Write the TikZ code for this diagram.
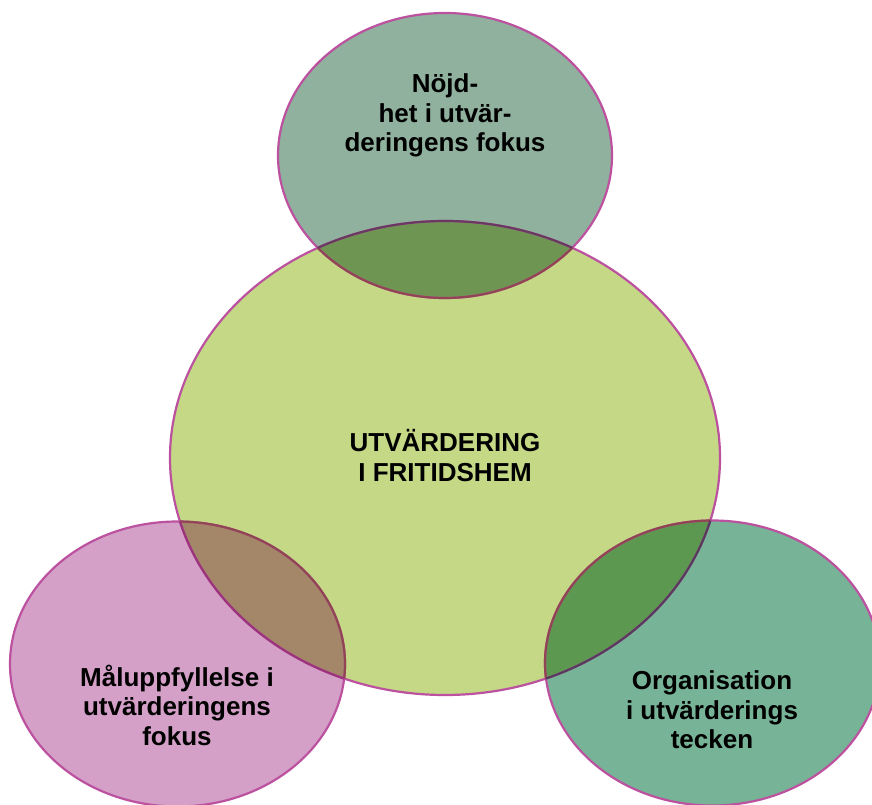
\documentclass[tikz,border=0pt]{standalone}
\usepackage{fontspec}
\setmainfont{Liberation Sans}
\definecolor{topfill}{HTML}{8FB19D}
\definecolor{midfill}{HTML}{C5D886}
\definecolor{leftfill}{HTML}{D4A0C8}
\definecolor{rightfill}{HTML}{77B497}
\definecolor{topmid}{HTML}{6E9652}
\definecolor{leftmid}{HTML}{A48769}
\definecolor{rightmid}{HTML}{5C984F}
\definecolor{rim}{HTML}{BC529F}
\definecolor{rimonmid}{HTML}{914554}
\definecolor{rimontop}{HTML}{693962}
\definecolor{rimonleft}{HTML}{9C337D}
\definecolor{rimonright}{HTML}{583A5E}
\tikzset{
  blob/.style={line width=2.2pt},
  eMid/.style={insert path={(445,458) ellipse [x radius=275, y radius=237]}},
  eTop/.style={insert path={(445,155.5) ellipse [x radius=167, y radius=142.5]}},
  eLeft/.style={insert path={(177.5,664) ellipse [x radius=167.5, y radius=142.5]}},
  eRight/.style={insert path={(712.5,663) ellipse [x radius=167.5, y radius=142.5]}},
  lbl/.style={align=center, font=\fontsize{26}{29.5}\selectfont\bfseries, text=black, inner sep=0pt}
}
\begin{document}
\begin{tikzpicture}[x=1pt,y=-1pt]
\useasboundingbox (0,0) rectangle (872,805);
% fills
\fill[midfill, eMid];
\fill[topfill, eTop];
\fill[leftfill, eLeft];
\fill[rightfill, eRight];
% overlaps
\begin{scope}\clip[eMid]; \fill[topmid, eTop]; \fill[leftmid, eLeft]; \fill[rightmid, eRight]; \end{scope}
% outlines
\draw[blob, rim, eMid];
\draw[blob, rim, eTop];
\draw[blob, rim, eLeft];
\draw[blob, rim, eRight];
% outlines seen through the other fill
\begin{scope}\clip[eMid]; \draw[blob, rimonmid, eTop]; \draw[blob, rimonmid, eLeft]; \draw[blob, rimonmid, eRight]; \end{scope}
\begin{scope}\clip[eTop]; \draw[blob, rimontop, eMid]; \end{scope}
\begin{scope}\clip[eLeft]; \draw[blob, rimonleft, eMid]; \end{scope}
\begin{scope}\clip[eRight]; \draw[blob, rimonright, eMid]; \end{scope}
% labels
\node[lbl] (top) at (445,115.5) {Nöjd-\\het i utvär-\\deringens fokus};
\node[lbl] (mid) at (445,455.5) {UTVÄRDERING\\I FRITIDSHEM};
\node[lbl] (left) at (177,705) {Måluppfyllelse i\\utvärderingens\\fokus};
\node[lbl] (right) at (712,710) {Organisation\\i utvärderings\\tecken};
\end{tikzpicture}
\end{document}
